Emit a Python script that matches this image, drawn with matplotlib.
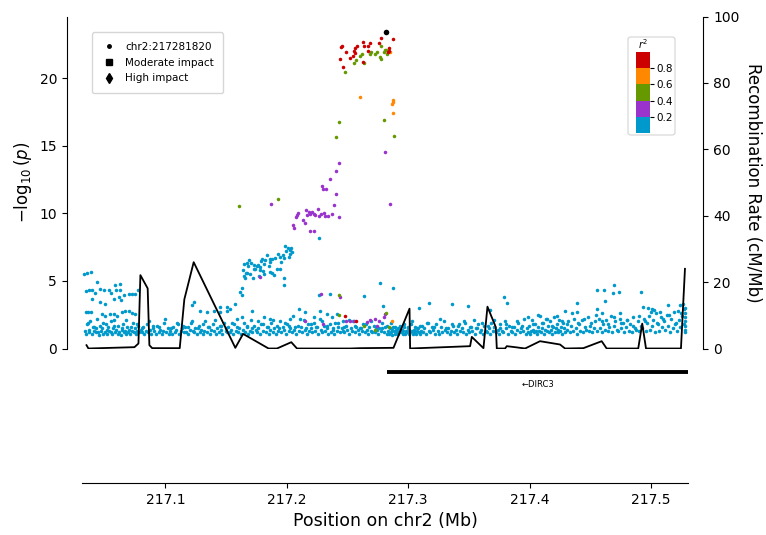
import numpy as np
import matplotlib
matplotlib.use("Agg")
import matplotlib.pyplot as plt
from matplotlib.colors import ListedColormap, BoundaryNorm
from matplotlib.cm import ScalarMappable
from matplotlib.lines import Line2D
from matplotlib.patches import FancyBboxPatch

# positions are kb past 217.0 Mb on chr2, values are -log10(p)

# r2 < 0.2, dense band
band_kb = [
    33.5, 34.6, 35.2, 36.8, 37.4, 38.1, 39.5, 40.3, 41.0, 42.6,
    43.1, 44.4, 45.0, 45.9, 47.3, 48.2, 48.8, 50.1, 51.5, 52.0,
    52.9, 53.7, 54.9, 56.0, 56.6, 57.8, 58.3, 59.4, 60.8, 61.2,
    62.0, 63.4, 64.1, 65.2, 66.0, 66.9, 67.7, 68.5, 69.3, 70.4,
    71.0, 72.1, 73.3, 74.0, 74.8, 75.9, 76.7, 77.8, 78.6, 79.5,
    80.4, 81.7, 82.5, 83.9, 84.6, 85.8, 87.1, 88.0, 89.4, 90.6,
    91.9, 93.0, 94.4, 95.5, 96.9, 98.1, 99.0, 100.6, 101.8, 103.0,
    104.2, 105.7, 106.5, 107.9, 109.1, 110.3, 111.6, 112.8, 113.7, 115.0,
    116.4, 117.3, 118.9, 120.1, 121.2, 122.6, 123.8, 124.7, 126.0, 127.3,
    128.1, 129.5, 130.6, 131.9, 133.0, 134.4, 135.2, 136.7, 137.8, 139.0,
    140.3, 141.5, 142.2, 143.8, 144.9, 146.1, 147.0, 148.5, 149.6, 150.4,
    151.8, 152.9, 154.1, 155.3, 156.2, 157.9, 158.6, 159.8, 161.0, 162.3,
    163.6, 164.5, 165.9, 167.0, 168.2, 169.4, 170.8, 171.6, 172.9, 174.3,
    175.1, 176.6, 177.9, 179.0, 180.2, 181.3, 182.8, 183.7, 185.1, 186.0,
    187.4, 188.6, 189.5, 190.9, 192.2, 193.0, 194.3, 195.6, 196.8, 198.0,
    199.1, 200.5, 201.6, 203.0, 204.2, 205.5, 206.3, 207.9, 209.0, 210.2,
    211.5, 212.4, 213.8, 214.9, 216.3, 217.4, 218.7, 219.6, 220.9, 222.4,
    223.3, 224.8, 225.6, 227.0, 228.2, 229.3, 230.7, 231.5, 232.9, 234.1,
    235.4, 236.3, 237.8, 238.9, 240.0, 241.6, 242.5, 243.9, 245.2, 246.3,
    247.5, 248.7, 249.9, 251.1, 252.6, 253.4, 254.8, 255.9, 257.3, 258.5,
    259.6, 260.8, 262.0, 263.1, 264.4, 265.7, 266.9, 268.0, 269.2, 270.5,
    271.6, 272.9, 274.1, 275.3, 276.2, 277.6, 278.8, 279.9, 281.2, 282.4,
    283.5, 284.2, 284.9, 285.6, 286.3, 287.0, 287.7, 288.4, 289.1, 289.8,
    290.5, 291.2, 291.9, 292.6, 293.3, 294.0, 294.7, 295.4, 296.1, 296.8,
    297.5, 298.2, 298.9, 299.6, 300.3, 301.0, 301.7, 302.4, 303.1, 303.8,
    304.5, 305.2, 305.9, 306.6, 307.3, 308.0, 308.7, 309.4, 310.1, 310.8,
    312.0, 313.4, 314.6, 315.9, 317.0, 318.3, 319.5, 320.7, 322.0, 323.2,
    324.5, 325.7, 326.9, 328.0, 329.4, 330.6, 331.8, 333.1, 334.2, 335.5,
    336.7, 337.9, 339.2, 340.3, 341.6, 342.8, 344.1, 345.2, 346.5, 347.8,
    349.0, 350.2, 351.5, 352.6, 353.9, 355.1, 356.4, 357.5, 358.8, 360.0,
    361.3, 362.4, 363.7, 364.9, 366.2, 367.4, 368.6, 369.8, 371.1, 372.3,
    373.6, 374.8, 376.0, 377.2, 378.5, 379.7, 380.9, 382.2, 383.4, 384.6,
    385.9, 387.1, 388.4, 389.6, 390.8, 392.1, 393.3, 394.5, 395.8, 397.0,
    398.2, 399.0, 399.8, 400.6, 401.4, 402.2, 403.0, 403.8, 404.6, 405.4,
    406.2, 407.0, 407.8, 408.6, 409.4, 410.2, 411.0, 411.8, 412.6, 413.4,
    414.2, 415.0, 415.8, 416.6, 417.4, 418.2, 419.0, 419.8, 420.6, 421.4,
    422.2, 423.0, 423.8, 424.6, 425.4, 426.2, 427.0, 427.8, 428.6, 429.4,
    430.6, 431.8, 433.1, 434.3, 435.6, 436.8, 438.0, 439.3, 440.5, 441.8,
    443.0, 444.3, 445.5, 446.8, 448.0, 449.3, 450.5, 451.8, 453.0, 454.3,
    455.5, 456.8, 458.0, 459.3, 460.5, 461.8, 463.0, 464.3, 465.5, 466.8,
    468.0, 469.3, 470.5, 471.8, 473.0, 474.3, 475.5, 476.8, 478.0, 479.3,
    480.5, 481.8, 483.0, 484.3, 485.5, 486.8, 488.0, 489.3, 490.5, 491.8,
    493.0, 494.3, 495.5, 496.8, 498.0, 499.3, 500.5, 501.8, 503.0, 504.3,
    505.5, 506.8, 508.0, 509.3, 510.5, 511.8, 513.0, 514.3, 515.5, 516.8,
    518.0, 519.3, 520.5, 521.8, 523.0, 524.3, 525.5, 526.8, 527.5, 528.0,
    528.2, 528.4, 527.7, 528.1, 528.3, 527.9,
]
band_logp = [
    1.3, 1.1, 1.8, 1.4, 1.2, 2.0, 1.1, 1.6, 1.3, 1.2,
    1.5, 1.2, 1.0, 1.7, 1.3, 1.1, 1.9, 1.2, 1.4, 1.1,
    1.6, 1.3, 1.2, 1.1, 1.5, 2.1, 1.2, 1.4, 1.1, 1.7,
    1.2, 1.0, 1.4, 1.8, 1.2, 1.3, 1.1, 1.6, 1.2, 1.4,
    1.1, 1.3, 1.9, 1.2, 1.5, 1.1, 1.3, 1.7, 1.2, 1.4,
    1.2, 1.6, 1.1, 1.3, 1.8, 1.2, 1.4, 1.1, 1.5, 1.3,
    1.1, 1.7, 1.2, 1.4, 1.1, 1.3, 1.9, 1.2, 1.5, 1.1,
    1.3, 1.1, 1.6, 1.2, 1.4, 1.8, 1.1, 1.3, 1.5, 1.2,
    1.6, 1.2, 1.1, 1.4, 1.9, 1.3, 1.2, 1.5, 1.1, 1.7,
    1.2, 1.4, 1.1, 1.3, 2.0, 1.2, 1.6, 1.1, 1.4, 1.8,
    1.3, 1.1, 1.5, 1.2, 1.7, 1.4, 1.1, 1.9, 1.3, 1.2,
    1.6, 1.2, 1.4, 1.1, 1.8, 1.3, 2.2, 1.2, 1.5, 1.1,
    1.4, 1.9, 1.2, 1.6, 1.1, 1.3, 2.1, 1.2, 1.7, 1.4,
    1.2, 1.5, 1.1, 1.8, 1.3, 2.3, 1.2, 1.6, 1.1, 1.4,
    1.9, 1.2, 1.5, 1.1, 1.7, 1.3, 2.0, 1.2, 1.6, 1.4,
    1.1, 1.8, 1.3, 1.5, 1.2, 2.4, 1.4, 1.1, 1.7, 1.3,
    1.6, 1.2, 2.1, 1.4, 1.1, 1.8, 1.3, 1.5, 1.2, 1.9,
    1.3, 1.6, 1.1, 2.2, 1.4, 1.2, 1.7, 1.3, 1.5, 1.1,
    1.8, 1.2, 1.4, 1.1, 1.9, 1.3, 1.6, 1.2, 1.5, 1.3,
    1.2, 1.7, 1.4, 1.1, 1.5, 1.3, 2.0, 1.2, 1.6, 1.4,
    1.1, 1.5, 1.3, 1.8, 1.2, 1.4, 1.1, 1.6, 1.3, 1.2,
    1.7, 1.2, 1.4, 1.1, 1.5, 1.3, 1.9, 1.2, 1.6, 1.1,
    1.3, 1.1, 1.5, 1.2, 1.4, 1.0, 1.6, 1.3, 1.1, 1.4,
    1.2, 1.5, 1.1, 1.3, 1.7, 1.2, 1.4, 1.1, 1.3, 1.6,
    1.1, 1.3, 1.2, 1.5, 1.1, 1.4, 1.2, 1.8, 1.3, 1.1,
    1.4, 1.2, 1.6, 1.1, 1.3, 1.5, 1.2, 1.1, 1.7, 1.3,
    1.2, 1.5, 1.1, 1.9, 1.3, 1.2, 1.6, 1.4, 1.1, 1.8,
    1.3, 1.1, 1.6, 1.2, 2.0, 1.4, 1.2, 1.5, 1.1, 1.3,
    1.7, 1.2, 1.4, 1.1, 1.8, 1.3, 1.5, 1.2, 1.9, 1.1,
    1.4, 1.2, 1.6, 1.3, 2.1, 1.1, 1.5, 1.8, 1.2, 1.4,
    1.1, 1.7, 1.3, 1.2, 1.5, 1.1, 1.9, 1.3, 1.6, 1.2,
    1.4, 1.1, 1.8, 1.3, 1.2, 2.0, 1.5, 1.1, 1.7, 1.3,
    1.2, 1.6, 1.1, 1.4, 1.9, 1.2, 1.5, 1.3, 2.2, 1.1,
    1.5, 1.2, 1.7, 1.1, 1.3, 2.1, 1.4, 1.2, 1.8, 1.3,
    1.1, 1.6, 1.3, 2.4, 1.2, 1.5, 1.9, 1.1, 1.4, 2.2,
    1.3, 1.7, 1.2, 2.0, 1.4, 1.1, 1.6, 2.3, 1.2, 1.5,
    1.8, 1.2, 1.4, 2.1, 1.3, 1.6, 1.1, 1.9, 1.5, 1.2,
    1.4, 2.0, 1.2, 1.7, 1.3, 2.2, 1.5, 1.1, 1.8, 1.3,
    2.1, 1.2, 1.6, 1.4, 2.3, 1.3, 1.9, 1.2, 1.5, 2.0,
    1.3, 2.2, 1.5, 1.2, 1.8, 1.4, 2.1, 1.3, 1.6, 2.4,
    1.2, 1.7, 2.0, 1.4, 1.3, 2.2, 1.5, 1.9, 1.2, 1.6,
    2.1, 1.3, 1.8, 1.2, 2.3, 1.5, 1.4, 2.0, 1.3, 1.7,
    1.5, 2.2, 1.3, 1.9, 2.4, 1.4, 1.7, 2.1, 1.2, 2.6,
    1.8, 1.3, 2.3, 1.6, 2.0, 1.4, 2.5, 1.7, 1.2, 2.2,
    1.5, 2.7, 1.9, 1.3, 2.1, 1.6, 2.4, 1.8, 2.9, 1.4,
    1.2, 2.3, 2.6, 1.7, 3.0, 2.0,
]

# r2 < 0.2, upper edge of the band
band2_kb = [
    36.2, 40.8, 44.0, 47.7, 51.1, 55.6, 58.0, 63.9, 67.3, 71.8,
    76.2, 81.0, 86.5, 90.0, 94.9, 99.5, 104.9, 109.6, 114.1, 118.3,
    122.0, 126.7, 131.2, 135.8, 140.9, 145.6, 150.0, 154.7, 159.2, 163.0,
    167.5, 171.2, 176.0, 180.7, 184.4, 189.0, 193.7, 198.4, 202.1, 206.8,
    211.0, 215.6, 220.2, 224.0, 228.7, 233.5, 238.0, 242.1, 246.9, 251.6,
    256.2, 260.1, 264.9, 269.7, 273.5, 278.2, 282.9, 286.0, 289.4, 292.9,
    296.4, 299.9, 303.4, 307.0, 311.3, 316.5, 321.4, 326.2, 331.0, 335.9,
    340.8, 345.7, 350.6, 355.6, 360.5, 365.6, 370.4, 375.4, 380.2, 385.2,
    389.9, 394.1, 398.8, 402.6, 406.6, 410.6, 414.6, 418.6, 422.6, 426.6,
    431.2, 435.0, 439.9, 444.9, 449.7, 454.9, 459.9, 464.9, 469.9, 474.9,
    479.9, 484.9, 489.9, 494.9, 499.9, 504.9, 509.9, 514.9, 519.9, 524.9,
]
band2_logp = [
    1.9, 1.6, 2.2, 1.5, 1.8, 2.0, 1.7, 1.5, 2.1, 1.6,
    1.8, 1.5, 2.0, 1.7, 1.6, 2.2, 1.5, 1.9, 1.7, 1.6,
    2.0, 1.5, 1.8, 1.6, 2.1, 1.7, 1.5, 1.9, 1.6, 2.3,
    1.7, 1.5, 2.0, 1.8, 1.6, 2.1, 1.5, 1.9, 1.7, 1.6,
    2.2, 1.5, 1.8, 1.6, 2.0, 1.7, 1.5, 1.9, 1.6, 2.1,
    1.7, 1.5, 1.8, 2.0, 1.6, 1.5, 1.7, 1.9, 1.6, 1.5,
    1.8, 1.6, 2.0, 1.5, 1.7, 1.9, 1.6, 2.2, 1.5, 1.8,
    1.7, 2.0, 1.6, 1.5, 1.9, 1.7, 2.1, 1.5, 1.8, 1.6,
    2.0, 1.7, 2.3, 1.8, 2.5, 1.9, 2.2, 1.7, 2.4, 2.0,
    1.8, 2.6, 1.9, 2.2, 1.7, 2.5, 2.0, 1.8, 2.3, 1.9,
    2.1, 1.7, 2.4, 2.0, 2.7, 1.9, 2.2, 2.5, 1.8, 2.6,
]

# r2 < 0.2, scattered above the band
blue_kb = [
    32.8, 35.6, 38.8, 43.8, 58.8, 62.4, 34.2, 36.9, 39.7, 41.8,
    46.5, 49.2, 53.3, 55.3, 59.7, 63.0, 65.7, 69.8, 72.6, 75.3,
    77.2, 61.6, 63.8, 57.4, 39.7, 46.5, 50.0, 34.2, 36.0, 38.8,
    47.9, 50.6, 54.7, 57.4, 60.2, 64.4, 67.1, 69.8, 72.6, 75.3,
    122.0, 123.3, 128.8, 134.3, 139.8, 145.3, 150.8, 153.5, 157.6, 145.3,
    150.8, 161.7, 163.1, 171.4, 186.4, 202.9, 209.7, 215.2, 222.1, 227.6,
    233.1, 237.2, 241.3, 246.7, 226.2, 235.8, 226.7, 163.1, 197.9,
    277.0, 287.9, 263.2, 379.0, 381.2, 439.3, 455.3, 461.3, 469.8, 469.0,
    473.9, 491.5, 462.1, 455.3, 459.4, 279.2, 317.3, 336.0, 349.6, 309.1,
    367.5, 429.2, 438.8, 474.5, 493.7, 497.8, 500.6, 502.7, 514.2, 523.9,
    526.6, 507.4, 522.5,
]
blue_logp = [
    5.53, 5.58, 5.63, 4.91, 4.67, 4.79, 4.24, 4.35, 4.35, 4.10,
    4.42, 4.30, 4.30, 4.10, 4.35, 4.35, 3.93, 4.00, 4.00, 4.05,
    4.30, 3.80, 3.56, 3.68, 3.68, 3.43, 3.31, 2.69, 2.67, 2.69,
    2.57, 2.44, 2.52, 2.57, 2.44, 2.69, 2.74, 2.76, 2.61, 2.57,
    3.19, 3.43, 2.81, 2.69, 2.81, 2.69, 2.81, 2.94, 3.31, 3.06,
    3.06, 4.17, 3.93, 2.81, 2.20, 2.20, 2.94, 2.69, 2.32, 2.81,
    2.57, 2.32, 2.57, 2.07, 3.93, 4.05, 8.20, 4.50, 4.70,
    4.87, 4.50, 3.85, 3.80, 3.39, 3.39, 4.35, 4.35, 4.67, 4.13,
    4.17, 4.17, 3.48, 2.94, 2.64, 3.11, 3.36, 3.31, 3.11, 3.01,
    2.87, 2.74, 2.69, 2.62, 3.06, 3.01, 2.94, 2.87, 3.19, 3.19,
    3.26, 2.69, 2.81,
]

# r2 < 0.2, raised block near 217.17-217.20
block_kb = [
    198.8, 200.7, 202.3, 204.3, 202.9, 196.5, 197.4, 194.7, 190.5, 186.4,
    185.8, 182.3, 179.6, 180.9, 178.2, 175.5, 172.7, 168.6, 167.2, 164.4,
    164.0, 167.2, 170.0, 174.1, 177.6, 181.5, 186.4, 189.7, 191.9, 197.4,
    165.8, 176.8, 166.0, 168.0, 170.5, 173.0, 176.0, 179.0, 183.5, 185.0,
    188.0, 192.5, 195.5, 199.5, 201.5, 203.5, 164.8, 172.0, 180.0, 187.5,
    194.0,
]
block_logp = [
    7.56, 7.46, 7.26, 7.13, 7.01, 6.89, 6.72, 6.77, 6.72, 6.64,
    6.40, 6.52, 6.64, 6.27, 6.02, 6.07, 6.15, 6.52, 6.32, 6.27,
    5.78, 5.58, 5.48, 5.90, 5.83, 5.48, 5.65, 5.41, 5.90, 5.24,
    5.24, 5.33, 5.60, 6.10, 6.30, 5.90, 6.20, 6.50, 6.90, 6.10,
    6.60, 7.00, 6.40, 7.20, 6.80, 7.40, 5.40, 5.20, 5.70, 5.60,
    5.90,
]

# 0.2 <= r2 < 0.4
purple_kb = [
    187.2, 242.6, 240.2, 235.2, 229.0, 229.8, 232.5, 240.5, 238.5, 243.0,
    216.0, 217.9, 219.3, 220.7, 222.1, 223.5, 216.6, 225.3, 226.2, 228.1,
    230.9, 231.7, 234.2, 237.2, 208.4, 207.8, 208.9, 205.1, 205.6, 213.0,
    215.0, 219.3, 222.1, 177.6, 280.5, 285.2, 228.4, 243.5, 215.2, 229.5,
    249.0, 252.3, 255.0, 266.0, 268.7, 272.8, 275.6, 279.7, 281.1, 274.2,
]
purple_logp = [
    10.67, 13.73, 13.16, 12.54, 12.00, 11.80, 11.80, 11.46, 10.64, 9.76,
    10.22, 10.10, 9.98, 10.07, 9.98, 9.85, 9.85, 10.32, 9.83, 9.98,
    10.02, 9.78, 9.80, 9.95, 9.85, 9.70, 10.00, 9.10, 8.90, 9.50,
    9.30, 8.70, 8.67, 5.30, 14.57, 10.70, 4.05, 3.80, 2.02, 1.78,
    2.07, 2.02, 2.07, 1.95, 2.12, 2.20, 2.07, 2.32, 2.57, 1.70,
]

# 0.4 <= r2 < 0.6
green_kb = [
    160.3, 192.8, 243.0, 240.5, 280.0, 288.2, 278.0, 280.5, 281.9, 279.7,
    274.2, 272.8, 269.3, 268.7, 261.6, 260.5, 256.6, 255.0, 263.8, 276.5,
    277.3, 282.5, 247.9, 242.6, 242.6, 264.0, 272.8, 281.9, 283.8,
]
green_logp = [
    10.54, 11.09, 16.79, 15.68, 16.89, 15.73, 22.37, 22.10, 22.07, 21.90,
    21.95, 21.78, 21.90, 21.75, 21.78, 21.63, 21.33, 21.13, 21.09, 21.58,
    21.39, 21.75, 20.44, 3.97, 2.50, 1.63, 1.38, 2.64, 1.58,
]

# 0.6 <= r2 < 0.8
orange_kb = [285.2, 260.5, 287.1, 287.7, 286.8, 287.7, 286.6]
orange_logp = [21.95, 18.61, 18.37, 18.24, 18.07, 17.43, 2.02]

# r2 >= 0.8
red_kb = [
    277.8, 287.1, 262.4, 268.5, 263.5, 266.8, 275.9, 245.7, 244.6, 257.8,
    255.8, 249.0, 255.0, 256.4, 254.5, 252.3, 243.5, 246.0, 262.4, 267.3,
    283.8, 284.4, 283.3, 248.1, 257.2,
]
red_logp = [
    23.00, 22.90, 22.70, 22.57, 22.37, 22.40, 22.60, 22.40, 22.27, 22.37,
    22.24, 21.90, 22.02, 21.88, 21.65, 21.48, 21.39, 20.79, 21.21, 22.00,
    22.20, 22.00, 21.90, 2.44, 2.02,
]

lead_kb = 281.82
lead_logp = 23.43

# recombination rate (cM/Mb)
recomb_kb = [
    35.0, 36.6, 74.5, 77.8, 79.4, 85.4, 86.8, 89.1, 111.8, 115.6,
    123.3, 157.6, 164.0, 185.0, 191.9, 203.7, 208.4, 252.3, 260.5, 287.9,
    301.1, 301.6, 351.0, 352.4, 362.0, 365.3, 372.2, 373.0, 379.8, 381.2,
    388.1, 396.3, 408.6, 425.1, 429.2, 444.3, 459.4, 463.5, 489.5, 492.8,
    495.9, 524.7, 528.0,
]
recomb_rate = [
    1.0, 0.0, 0.4, 1.5, 22.1, 18.1, 1.0, 0.1, 0.1, 14.8,
    26.0, 0.2, 4.4, 0.0, 0.0, 1.9, 0.0, 0.0, 0.1, 0.2,
    12.0, 0.0, 0.7, 3.5, 0.1, 12.6, 6.4, 0.0, 0.0, 0.7,
    0.4, 0.0, 2.2, 1.2, 0.0, 0.1, 2.2, 0.0, 0.0, 7.5,
    0.0, 0.0, 24.0,
]

ld_colors = ['#0099CC', '#9933CC', '#669900', '#FF8800', '#CC0000']
ld_bounds = [0, 0.2, 0.4, 0.6, 0.8, 1.0]

gene_name = 'DIRC3'
gene_start = 217.2827
gene_end = 217.5600
x_min, x_max = 217.0313, 217.5305


def mb(kb):
    return 217.0 + np.asarray(kb) / 1000.0


W, H = 766, 535
fig = plt.figure(figsize=(W / 100, H / 100), dpi=100)

ax = fig.add_axes([82 / W, 1 - 348.5 / H, 606 / W, 332 / H])
ax.set_xlim(x_min, x_max)
ax.set_ylim(0, 24.56)

pt = 6.5
ax.scatter(mb(band_kb), band_logp, s=pt, c=ld_colors[0], lw=0)
ax.scatter(mb(band2_kb), band2_logp, s=pt, c=ld_colors[0], lw=0)
ax.scatter(mb(blue_kb), blue_logp, s=pt, c=ld_colors[0], lw=0)
ax.scatter(mb(block_kb), block_logp, s=pt, c=ld_colors[0], lw=0)
ax.scatter(mb(purple_kb), purple_logp, s=pt, c=ld_colors[1], lw=0)
ax.scatter(mb(green_kb), green_logp, s=pt, c=ld_colors[2], lw=0)
ax.scatter(mb(orange_kb), orange_logp, s=pt, c=ld_colors[3], lw=0)
ax.scatter(mb(red_kb), red_logp, s=pt, c=ld_colors[4], lw=0)
ax.scatter(mb([lead_kb]), [lead_logp], s=16, c='black', lw=0, zorder=5)

ax.set_ylabel(r'$-\log_{10}(p)$', fontsize=12)
ax.tick_params(axis='x', bottom=False, labelbottom=False)
ax.tick_params(axis='y', labelsize=10)
ax.set_yticks([0, 5, 10, 15, 20])
for s in ['top', 'right', 'bottom']:
    ax.spines[s].set_visible(False)
ax.spines['left'].set_position(('outward', 11))

handles = [
    Line2D([], [], marker='o', color='black', ls='', ms=2.5),
    Line2D([], [], marker='s', color='black', ls='', ms=4),
    Line2D([], [], marker='d', color='black', ls='', ms=5),
]
ax.legend(handles, ['chr2:217281820', 'Moderate impact', 'High impact'],
          loc='upper left', bbox_to_anchor=(0.0165, 0.952), borderaxespad=0,
          fontsize=7.5, handlelength=1.5, labelspacing=0.55, borderpad=0.9)

ax2 = ax.twinx()
ax2.plot(mb(recomb_kb), recomb_rate, color='black', lw=1.3)
ax2.set_ylim(0, 100)
ax2.set_xlim(x_min, x_max)
ax2.set_yticks([0, 20, 40, 60, 80, 100])
ax2.tick_params(axis='y', labelsize=10)
ax2.tick_params(axis='x', bottom=False, labelbottom=False)
for s in ['top', 'left', 'bottom']:
    ax2.spines[s].set_visible(False)
ax2.spines['right'].set_position(('outward', 11))
ax2.set_ylabel('Recombination Rate (cM/Mb)', fontsize=12, rotation=270,
               labelpad=16)

# r2 colour key
frame = FancyBboxPatch((628 / W, 1 - 135 / H), 47 / W, 98 / H,
                       boxstyle='round,pad=0,rounding_size=0.004',
                       transform=fig.transFigure, fc='white', ec='#d4d4d4',
                       lw=0.8, zorder=2)
fig.patches.append(frame)
cax = fig.add_axes([636 / W, 1 - 133 / H, 14 / W, 81 / H])
cax.set_zorder(5)
sm = ScalarMappable(norm=BoundaryNorm(ld_bounds, len(ld_colors)),
                    cmap=ListedColormap(ld_colors))
cb = fig.colorbar(sm, cax=cax, ticks=[0.2, 0.4, 0.6, 0.8])
cb.outline.set_visible(False)
cb.ax.minorticks_off()
cax.tick_params(labelsize=7.5, length=3, width=0.8, pad=1.5)
cax.set_title(r'$r^2$', fontsize=7, pad=2)

# gene track
gax = fig.add_axes([82 / W, 1 - 483 / H, 606 / W, 128 / H])
gax.set_xlim(x_min, x_max)
gax.set_ylim(0, 1)
gax.hlines(0.867, gene_start, gene_end, color='black', lw=2.8)
gax.text((gene_start + x_max) / 2, 0.766, '\u2190' + gene_name,
         ha='center', va='center', fontsize=6)
for s in ['top', 'left', 'right']:
    gax.spines[s].set_visible(False)
gax.set_yticks([])
gax.set_xticks([217.1, 217.2, 217.3, 217.4, 217.5])
gax.set_xticklabels(['217.1', '217.2', '217.3', '217.4', '217.5'])
gax.tick_params(axis='x', labelsize=10)
gax.set_xlabel('Position on chr2 (Mb)', fontsize=12.5)

fig.savefig('out.png', dpi=100)
